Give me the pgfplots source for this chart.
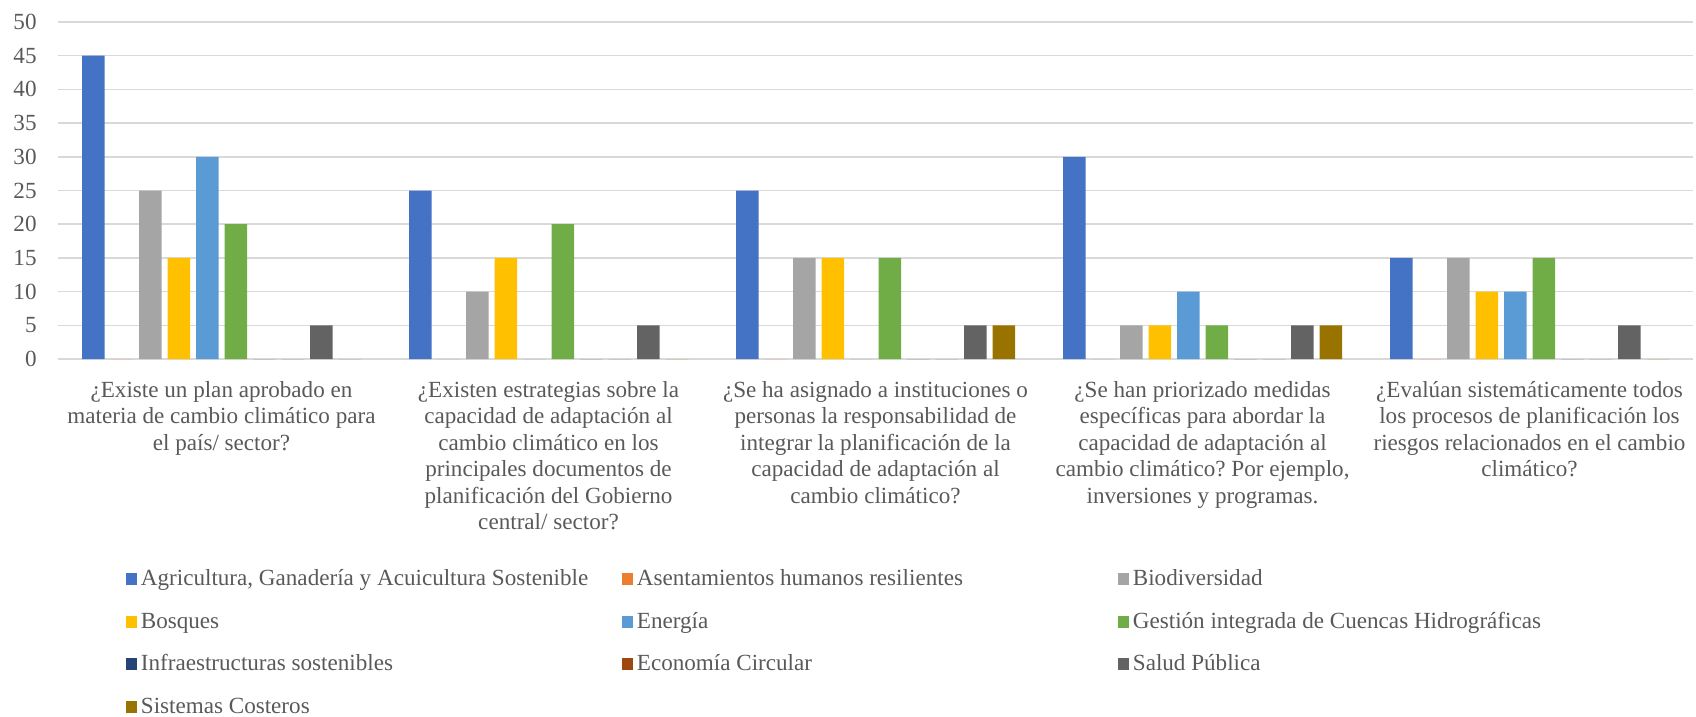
\documentclass[border=0pt]{standalone}
\usepackage{pgfplots}
\pgfplotsset{compat=1.18}
\usepackage{fontspec}
\setmainfont{Liberation Serif}
\frenchspacing

\definecolor{c1}{HTML}{4472C4}
\definecolor{c2}{HTML}{ED7D31}
\definecolor{c3}{HTML}{A5A5A5}
\definecolor{c4}{HTML}{FFC000}
\definecolor{c5}{HTML}{5B9BD5}
\definecolor{c6}{HTML}{70AD47}
\definecolor{c7}{HTML}{264478}
\definecolor{c8}{HTML}{9E480E}
\definecolor{c9}{HTML}{636363}
\definecolor{c10}{HTML}{997300}
\definecolor{txt}{HTML}{595959}
\definecolor{gridc}{HTML}{D9D9D9}

\newcommand{\lbl}{\fontsize{11.6}{13.3}\selectfont}
\newcommand{\lgd}[1]{\makebox[239bp][l]{#1}}

\begin{document}
\begin{tikzpicture}
\useasboundingbox (-29bp,-179bp) rectangle (819bp,179.5bp);
\begin{axis}[
    scale only axis,
    width=817.5bp,
    height=168.5bp,
    ybar=3bp,
    bar width=11.25bp,
    xmin=-0.5, xmax=4.5,
    ymin=0, ymax=50,
    ytick={0,5,...,50},
    xtick={0,...,4},
    xticklabels={
      {¿Existe un plan aprobado en\\materia de cambio climático para\\el país/ sector?},
      {¿Existen estrategias sobre la\\capacidad de adaptación al\\cambio climático en los\\principales documentos de\\planificación del Gobierno\\central/ sector?},
      {¿Se ha asignado a instituciones o\\personas la responsabilidad de\\integrar la planificación de la\\capacidad de adaptación al\\cambio climático?},
      {¿Se han priorizado medidas\\específicas para abordar la\\capacidad de adaptación al\\cambio climático? Por ejemplo,\\inversiones y programas.},
      {¿Evalúan sistemáticamente todos\\los procesos de planificación los\\riesgos relacionados en el cambio\\climático?}
    },
    axis line style={draw=none},
    major tick length=0pt,
    ymajorgrids,
    grid style={gridc, line width=0.75bp},
    /pgf/number format/assume math mode=true,
    tick label style={font=\lbl, text=txt},
    yticklabel style={inner sep=0pt, xshift=-10.5bp},
    xticklabel style={inner sep=0pt, yshift=-11bp, align=center},
    legend columns=3,
    legend style={at={(axis description cs:0,0)}, anchor=north west,
      xshift=34bp, yshift=-105bp, draw=none, fill=none, inner sep=0pt,
      text=txt, font=\lbl, cells={anchor=west},
      nodes={inner xsep=1.75bp, inner ysep=0pt, text height=8bp, text depth=2.5bp},
      row sep=10.8bp, column sep=0pt},
    legend image code/.code={\fill[#1] (0bp,-2.5bp) rectangle (5.5bp,3.5bp);},
]
\addplot[fill=c1, draw=none] coordinates {(0,45) (1,25) (2,25) (3,30) (4,15)};
\addplot[fill=c2, draw=none] coordinates {(0,0) (1,0) (2,0) (3,0) (4,0)};
\addplot[fill=c3, draw=none] coordinates {(0,25) (1,10) (2,15) (3,5) (4,15)};
\addplot[fill=c4, draw=none] coordinates {(0,15) (1,15) (2,15) (3,5) (4,10)};
\addplot[fill=c5, draw=none] coordinates {(0,30) (1,0) (2,0) (3,10) (4,10)};
\addplot[fill=c6, draw=none] coordinates {(0,20) (1,20) (2,15) (3,5) (4,15)};
\addplot[fill=c7, draw=none] coordinates {(0,0) (1,0) (2,0) (3,0) (4,0)};
\addplot[fill=c8, draw=none] coordinates {(0,0) (1,0) (2,0) (3,0) (4,0)};
\addplot[fill=c9, draw=none] coordinates {(0,5) (1,5) (2,5) (3,5) (4,5)};
\addplot[fill=c10, draw=none] coordinates {(0,0) (1,0) (2,5) (3,5) (4,0)};
\legend{\lgd{Agricultura, Ganadería y Acuicultura Sostenible},
  \lgd{Asentamientos humanos resilientes},
  \lgd{Biodiversidad},
  \lgd{Bosques},
  \lgd{Energía},
  \lgd{Gestión integrada de Cuencas Hidrográficas},
  \lgd{Infraestructuras sostenibles},
  \lgd{Economía Circular},
  \lgd{Salud Pública},
  \lgd{Sistemas Costeros}}
\end{axis}
\end{tikzpicture}
\end{document}
